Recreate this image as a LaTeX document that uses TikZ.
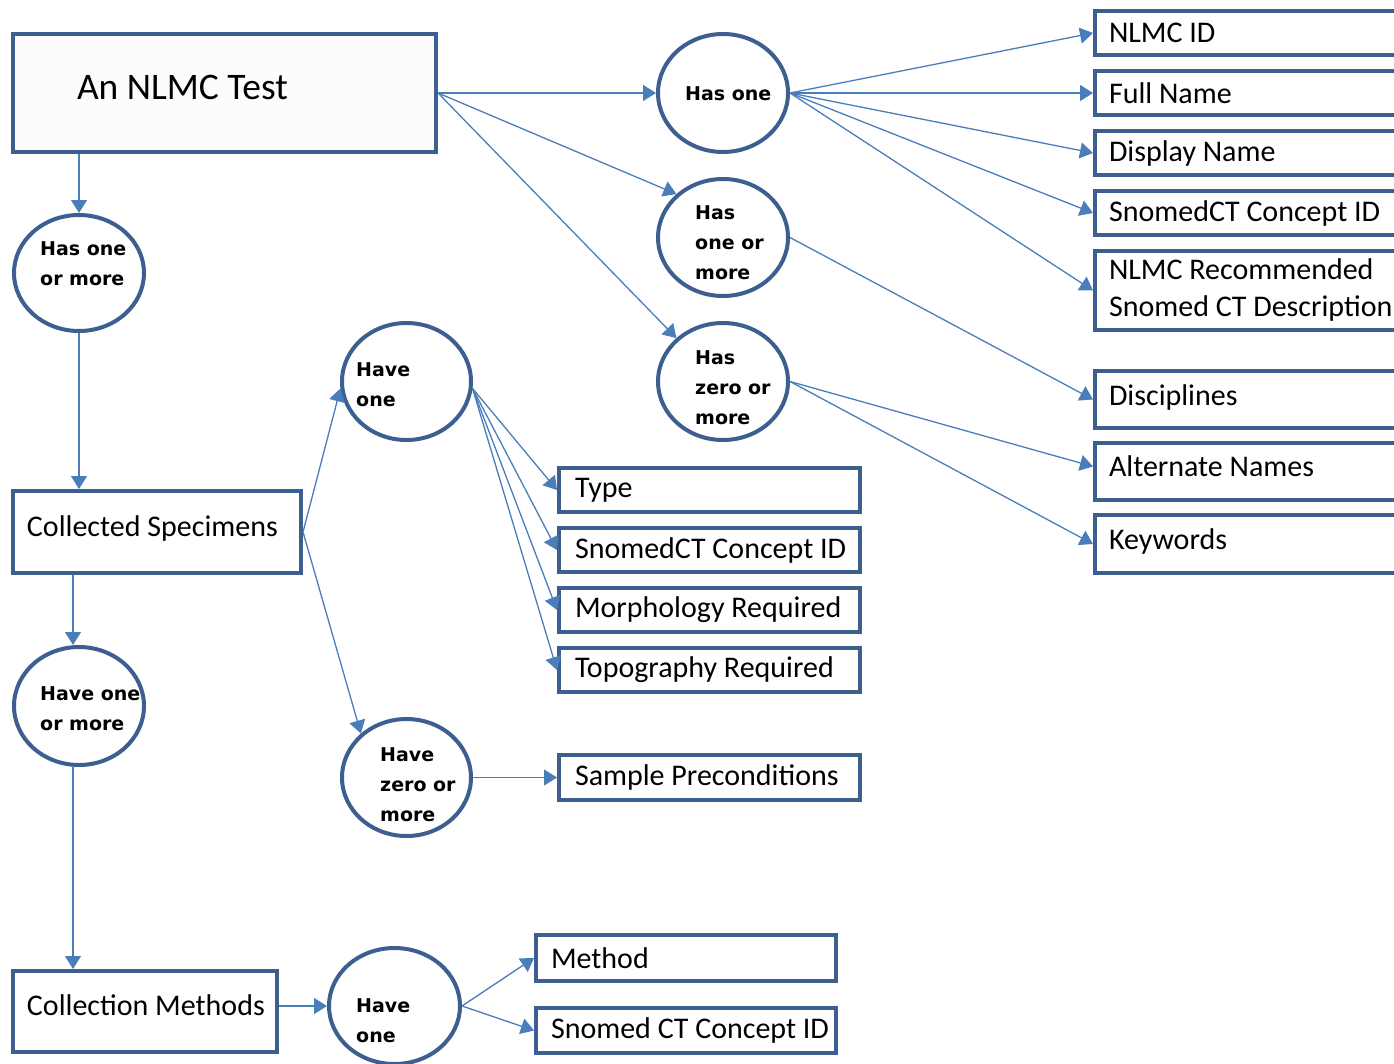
\documentclass[tikz,border=0pt]{standalone}
\usepackage{fontspec}
\setmainfont{Carlito}
\newfontfamily\circfont{DejaVu Sans}
\usetikzlibrary{arrows.meta,shapes.geometric,calc}
\definecolor{boxblue}{HTML}{3D5F8F}
\definecolor{lineblue}{HTML}{4A7EBB}
\definecolor{boxfill}{HTML}{FCFCFC}
\begin{document}
\begin{tikzpicture}[x=1pt,y=-1pt,
  bx/.style 2 args={draw=boxblue, line width=4pt, fill=white, rectangle,
    inner xsep=#2, inner ysep=0pt, minimum height=#1,
    font=\fontsize{30}{37}\selectfont},
  ell/.style 2 args={draw=boxblue, line width=4pt, fill=white, ellipse,
    inner sep=0pt, minimum width=#1, minimum height=#2},
  ct/.style={font=\circfont\bfseries\fontsize{19}{30}\selectfont,
    align=left, inner sep=0pt, anchor=west},
  conn/.style={draw=lineblue, line width=1.3pt,
    -{Triangle[length=13pt,width=16pt]}}
]
\clip (0,0) rectangle (1394,1063);
\fill[white] (0,0) rectangle (1394,1063);

% main boxes
\node[bx={118pt}{64pt}, fill=boxfill, font=\fontsize{37.5}{40}\selectfont] (test) at (224.5,93) {\makebox[295pt][l]{\raisebox{12pt}{An NLMC Test}}};
\node[bx={82pt}{14pt}] (cs) at (157,532) {\makebox[260pt][l]{\raisebox{12pt}{Collected Specimens}}};
\node[bx={81pt}{14pt}] (cm) at (145,1011.5) {\makebox[236pt][l]{\raisebox{12pt}{Collection Methods}}};

% right column boxes
\node[bx={44pt}{14pt}] (nlmcid) at (1257.5,33) {\makebox[297pt][l]{NLMC ID}};
\node[bx={44pt}{14pt}] (fullname) at (1257.5,93) {\makebox[297pt][l]{Full Name}};
\node[bx={44pt}{14pt}] (display) at (1257.5,153) {\makebox[297pt][l]{Display Name}};
\node[bx={44pt}{14pt}] (sct1) at (1257.5,213) {\makebox[297pt][l]{SnomedCT Concept ID}};
\node[bx={79pt}{14pt}] (recdesc) at (1257.5,290.5) {\makebox[297pt][l]{\begin{tabular}{@{}l@{}}NLMC Recommended\\Snomed CT Description\end{tabular}}};
\node[bx={57pt}{14pt}] (disc) at (1257.5,399.5) {\makebox[297pt][l]{\raisebox{9pt}{Disciplines}}};
\node[bx={57pt}{14pt}] (alt) at (1257.5,471.5) {\makebox[297pt][l]{\raisebox{11pt}{Alternate Names}}};
\node[bx={58pt}{14pt}] (kw) at (1257.5,544) {\makebox[297pt][l]{\raisebox{10pt}{Keywords}}};

% middle boxes
\node[bx={44pt}{16pt}] (type) at (709.5,490) {\makebox[269pt][l]{Type}};
\node[bx={44pt}{16pt}] (sct2) at (709.5,550) {\makebox[269pt][l]{SnomedCT Concept ID}};
\node[bx={44pt}{16pt}] (morph) at (709.5,610) {\makebox[269pt][l]{Morphology Required}};
\node[bx={44pt}{16pt}] (topo) at (709.5,670) {\makebox[269pt][l]{Topography Required}};
\node[bx={45pt}{16pt}] (sample) at (709.5,777.5) {\makebox[269pt][l]{Sample Preconditions}};
\node[bx={46pt}{15pt}] (method) at (686,958) {\makebox[270pt][l]{Method}};
\node[bx={45pt}{15pt}] (sct3) at (686,1030.5) {\makebox[270pt][l]{Snomed CT Concept ID}};

% ellipses
\node[ell={130pt}{116pt}] (c1) at (79,273) {};
\node[ell={130pt}{118pt}] (h1) at (723,93) {};
\node[ell={130pt}{117pt}] (h2) at (723,237.5) {};
\node[ell={130pt}{117pt}] (h3) at (723,381.5) {};
\node[ell={129pt}{117pt}] (v1) at (406.5,381.5) {};
\node[ell={130pt}{118pt}] (c2) at (79,706) {};
\node[ell={129pt}{117pt}] (v2) at (406.5,777.5) {};
\node[ell={131pt}{116pt}] (v3) at (394.5,1006) {};

% ellipse texts
\node[ct] (c1t) at (40,264) {Has one\\or more};
\node[ct] (h1t) at (685,94) {Has one};
\node[ct] (h2t) at (695,243) {Has\\one or\\more};
\node[ct] (h3t) at (695,388) {Has\\zero or\\more};
\node[ct] (v1t) at (356,385) {Have\\one};
\node[ct] (c2t) at (40,709) {Have one\\or more};
\node[ct] (v2t) at (380,785) {Have\\zero or\\more};
\node[ct] (v3t) at (356,1021) {Have\\one};

% connectors
\draw[conn] (test.east) -- (h1.west);
\draw[conn] (test.east) -- (h2.137);
\draw[conn] (test.east) -- (h3.137);
\foreach \bn in {nlmcid,fullname,display,sct1,recdesc}
  \draw[conn] (h1.east) -- (\bn.west);
\draw[conn] (h2.east) -- (disc.west);
\draw[conn] (h3.east) -- ([yshift=5pt]alt.west);
\draw[conn] (h3.east) -- (kw.west);
\draw[conn] (c1.north |- test.south) -- (c1.north);
\draw[conn] (c1.south) -- (c1.south |- cs.north);
\draw[conn] ([xshift=-6pt]c2.north |- cs.south) -- ([xshift=-6pt]c2.north);
\draw[conn] ([xshift=-6pt]c2.south) -- ([xshift=-6pt]c2.south |- cm.north);
\draw[conn] (cs.east) -- (v1.186);
\draw[conn] (cs.east) -- (v2.136);
\foreach \bn in {type,sct2,morph,topo}
  \draw[conn] (v1.354) -- (\bn.west);
\draw[conn] (v2.east) -- (sample.west);
\draw[conn] (v3.west -| cm.east) -- (v3.west);
\draw[conn] (v3.east) -- (method.west);
\draw[conn] (v3.east) -- (sct3.west);
\end{tikzpicture}
\end{document}
